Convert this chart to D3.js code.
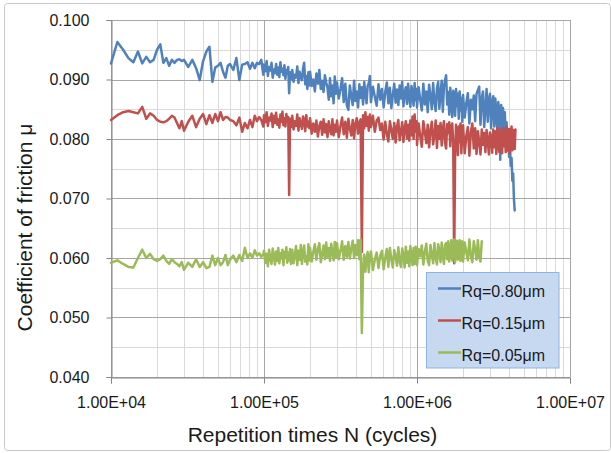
<!DOCTYPE html>
<html><head><meta charset="utf-8">
<script src="https://cdn.jsdelivr.net/npm/d3@7"></script>
<style>
body{margin:0;background:#fff}
svg{display:block}
text{font-family:"Liberation Sans",Arial,sans-serif;fill:#1a1a1a}
</style>
</head><body>
<svg id="chart" width="611" height="453"></svg>
<script>
// Repetition times, in thousands of cycles (shared sample grid)
const cyclesK = [
 10,11,12,13,14,15,16,17,18,19,20,21,22,23,24,25,26,27,28,29,30,
 32,34,36,38,40,42,44,46,48,50,52,54,56,58,60,
 63,66,69,72,75,78,81,84,87,90,93,96,99,
 100,102,104,106,108,110,112,114,116,118,120,122,124,126,128,130,132,134,136,138,140,142,144,146,148,150,
 153,156,159,162,165,168,171,174,177,180,183,186,189,192,195,198,
 200,205,210,215,220,225,230,235,240,245,250,255,260,265,270,275,280,285,290,295,
 300,308,316,324,332,340,348,356,364,372,380,388,396,404,412,420,428,436,444,452,460,468,476,484,492,
 500,515,530,545,560,575,590,605,620,635,650,665,680,695,710,725,740,755,770,785,800,815,830,845,860,875,890,905,920,935,950,965,980,995,
 1000,1025,1050,1075,1100,1125,1150,1175,1200,1225,1250,1275,1300,1325,1350,1375,1400,1425,1450,1475,1500,1525,1550,1575,1600,1625,1650,1675,1700,1725,1750,1775,1800,1825,1850,1875,1900,1925,1950,1975,
 2000,2050,2100,2150,2200,2250,2300,2350,2400,2450,2500,2550,2600,2650,2700,2750,2800,2850,2900,2950,3000,3050,3100,3150,3200,3250,3300,3350,3400,3450,3500,3550,3600,3650,3700,3750,3800,3850,3900,3950,4000,4050,4100,4150,4200,4250,4300,4350,4400
];

// Rq = 0.80 µm
const muRq080 = [
 .0927,.0963,.0950,.0936,.0929,.0947,.0927,.0938,.0929,.0933,.0950,.0959,.0928,.0936,.0923,.0933,.0928,.0933,.0934,.0931,.0933,
 .0921,.0933,.0919,.0899,.0931,.0947,.0955,.0896,.0920,.0923,.0928,.0913,.0903,.0923,.0926,
 .0916,.0936,.0899,.0925,.0926,.0929,.0918,.0928,.0919,.0928,.0926,.0933,.0908,
 .0925,.0914,.0931,.0906,.0921,.0915,.0928,.0903,.0917,.0911,.0926,.0908,.0920,.0904,.0929,.0913,.0918,.0907,.0924,.0901,.0916,.0910,.0921,.0877,.0912,.0900,
 .0916,.0896,.0908,.0903,.0922,.0894,.0913,.0905,.0899,.0918,.0928,.0892,.0906,.0884,.0912,.0890,
 .0913,.0889,.0900,.0880,.0910,.0893,.0916,.0884,.0898,.0879,.0907,.0895,.0886,.0866,.0902,.0872,.0890,.0860,.0905,.0876,
 .0895,.0868,.0884,.0902,.0862,.0893,.0856,.0849,.0890,.0872,.0857,.0898,.0864,.0880,.0853,.0892,.0869,.0887,.0858,.0896,.0876,.0860,.0889,.0894,.0906,
 .0862,.0888,.0871,.0856,.0892,.0866,.0884,.0853,.0879,.0895,.0860,.0886,.0852,.0874,.0893,.0861,.0883,.0857,.0890,.0868,.0896,.0855,.0878,.0887,.0859,.0893,.0870,.0854,.0889,.0876,.0856,.0894,.0865,.0884,
 .0853,.0887,.0866,.0848,.0893,.0858,.0880,.0845,.0891,.0872,.0850,.0894,.0862,.0847,.0885,.0896,.0851,.0876,.0898,.0846,.0888,.0899,.0907,.0858,.0879,.0841,.0886,.0862,.0837,.0881,.0870,.0839,.0884,.0855,.0876,.0834,.0880,.0848,.0869,.0829,
 .0874,.0836,.0860,.0877,.0826,.0866,.0850,.0873,.0830,.0876,.0882,.0888,.0824,.0868,.0880,.0820,.0852,.0884,.0829,.0866,.0876,.0818,.0860,.0872,.0821,.0868,.0845,.0815,.0862,.0840,.0765,.0857,.0820,.0852,.0812,.0845,.0800,.0828,.0790,.0812,.0770,.0788,.0755,.0768,.0730,.0742,.0700,.0680
];

// Rq = 0.15 µm
const muRq015 = [
 .0832,.0840,.0845,.0847,.0845,.0843,.0854,.0834,.0843,.0839,.0832,.0829,.0828,.0830,.0834,.0839,.0836,.0827,.0818,.0830,.0814,
 .0829,.0839,.0820,.0834,.0842,.0825,.0840,.0827,.0842,.0830,.0845,.0832,.0837,.0836,.0832,
 .0830,.0823,.0836,.0812,.0827,.0818,.0832,.0820,.0839,.0830,.0837,.0832,.0821,
 .0840,.0828,.0845,.0822,.0836,.0831,.0843,.0820,.0839,.0827,.0844,.0824,.0833,.0819,.0841,.0829,.0846,.0823,.0835,.0821,.0842,.0830,.0837,.0706,.0834,.0820,
 .0839,.0816,.0830,.0822,.0841,.0814,.0835,.0826,.0817,.0838,.0832,.0813,.0840,.0821,.0829,.0818,
 .0835,.0809,.0826,.0812,.0831,.0804,.0822,.0829,.0807,.0833,.0811,.0825,.0803,.0830,.0815,.0808,.0833,.0806,.0824,.0812,
 .0831,.0803,.0822,.0836,.0808,.0829,.0802,.0834,.0817,.0806,.0832,.0801,.0826,.0835,.0809,.0828,.0833,.0610,.0840,.0818,.0845,.0822,.0837,.0814,.0841,
 .0820,.0839,.0812,.0831,.0836,.0815,.0826,.0799,.0829,.0808,.0796,.0830,.0815,.0800,.0827,.0794,.0821,.0832,.0798,.0812,.0828,.0795,.0818,.0830,.0801,.0824,.0797,.0831,.0806,.0838,.0800,.0841,.0812,.0830,
 .0790,.0826,.0805,.0787,.0830,.0812,.0793,.0824,.0786,.0815,.0829,.0791,.0808,.0831,.0785,.0822,.0800,.0827,.0789,.0817,.0830,.0793,.0784,.0825,.0810,.0828,.0788,.0819,.0826,.0792,.0591,.0779,.0824,.0800,.0773,.0821,.0795,.0826,.0776,.0815,
 .0823,.0776,.0805,.0820,.0772,.0812,.0826,.0784,.0818,.0775,.0813,.0795,.0774,.0816,.0790,.0810,.0778,.0815,.0798,.0774,.0811,.0803,.0777,.0816,.0786,.0813,.0775,.0819,.0795,.0778,.0815,.0801,.0776,.0818,.0788,.0814,.0778,.0820,.0796,.0780,.0817,.0776,.0806,.0821,.0781,.0815,.0798,.0783,.0816
];

// Rq = 0.05 µm
const muRq005 = [
 .0592,.0596,.0590,.0585,.0584,.0600,.0614,.0600,.0607,.0598,.0595,.0598,.0604,.0595,.0590,.0598,.0593,.0590,.0586,.0593,.0580,
 .0592,.0585,.0598,.0585,.0593,.0583,.0585,.0604,.0588,.0600,.0588,.0593,.0605,.0588,.0597,
 .0604,.0593,.0605,.0595,.0617,.0600,.0608,.0600,.0613,.0604,.0608,.0602,.0607,
 .0612,.0592,.0607,.0586,.0614,.0598,.0590,.0616,.0603,.0589,.0611,.0595,.0617,.0591,.0608,.0599,.0614,.0588,.0610,.0601,.0618,.0592,.0609,.0596,.0615,.0590,
 .0614,.0591,.0605,.0620,.0588,.0612,.0597,.0622,.0590,.0609,.0621,.0594,.0603,.0589,.0623,.0596,
 .0617,.0594,.0610,.0623,.0597,.0615,.0625,.0593,.0606,.0621,.0598,.0626,.0602,.0617,.0595,.0624,.0609,.0596,.0627,.0601,
 .0625,.0598,.0612,.0628,.0597,.0620,.0602,.0627,.0599,.0616,.0629,.0600,.0622,.0605,.0630,.0598,.0631,.0474,.0581,.0606,.0577,.0598,.0610,.0576,.0603,
 .0611,.0580,.0597,.0609,.0583,.0604,.0612,.0581,.0600,.0615,.0585,.0617,.0598,.0584,.0613,.0603,.0587,.0618,.0594,.0585,.0616,.0605,.0584,.0619,.0592,.0611,.0586,.0620,.0601,.0588,.0617,.0590,.0619,.0599,
 .0588,.0615,.0603,.0621,.0589,.0610,.0624,.0595,.0588,.0622,.0606,.0591,.0625,.0600,.0589,.0623,.0612,.0593,.0626,.0604,.0590,.0622,.0625,.0598,.0628,.0594,.0612,.0630,.0596,.0621,.0631,.0593,.0615,.0629,.0597,.0620,.0630,.0595,.0609,.0628,
 .0594,.0626,.0610,.0596,.0631,.0604,.0593,.0628,.0615,.0597,.0630,.0602,.0594,.0628
];

const seriesNames = ["Rq=0.80μm", "Rq=0.15μm", "Rq=0.05μm"];
const seriesColors = ["#4f81bd", "#c0504d", "#9bbb59"];
const yTickValues = [0.040, 0.050, 0.060, 0.070, 0.080, 0.090, 0.100];
const xTickValues = [1e4, 1e5, 1e6, 1e7];
const xTitle = "Repetition times N (cycles)";
const yTitle = "Coefficient of friction μ";

const svg = d3.select("#chart");
const L = 111, R = 570, T = 20, B = 377;
const x = d3.scaleLog().domain([1e4, 1e7]).range([L, R]);
const y = d3.scaleLinear().domain([0.040, 0.100]).range([B, T]);
const crisp = v => Math.round(v) + 0.5;

// chart frame
svg.append("rect").attr("x", 4.5).attr("y", 3.5).attr("width", 606).attr("height", 447)
  .attr("rx", 3).attr("fill", "#fff").attr("stroke", "#c8c8c8");

// minor grid
const yMinor = d3.range(0, yTickValues.length - 1).map(i => (yTickValues[i] + yTickValues[i + 1]) / 2);
svg.append("g").selectAll("line").data(yMinor).join("line")
  .attr("x1", L).attr("x2", R).attr("y1", d => crisp(y(d))).attr("y2", d => crisp(y(d)))
  .attr("stroke", "#d9d9d9");
const xMinor = x.ticks().filter(d => !xTickValues.includes(d));
svg.append("g").selectAll("line").data(xMinor).join("line")
  .attr("y1", T).attr("y2", B).attr("x1", d => crisp(x(d))).attr("x2", d => crisp(x(d)))
  .attr("stroke", "#d9d9d9");
// major grid
svg.append("g").selectAll("line").data(yTickValues).join("line")
  .attr("x1", L).attr("x2", R).attr("y1", d => crisp(y(d))).attr("y2", d => crisp(y(d)))
  .attr("stroke", "#a6a6a6");
svg.append("g").selectAll("line").data(xTickValues).join("line")
  .attr("y1", T).attr("y2", B).attr("x1", d => crisp(x(d))).attr("x2", d => crisp(x(d)))
  .attr("stroke", "#a6a6a6");

// axes
const yAxis = svg.append("g").attr("transform", `translate(${crisp(L)},0)`)
  .call(d3.axisLeft(y).tickValues(yTickValues).tickFormat(d3.format(".3f")).tickSizeOuter(0).tickSize(5).tickPadding(17));
const xAxis = svg.append("g").attr("transform", `translate(0,${crisp(B)})`)
  .call(d3.axisBottom(x).tickValues(xTickValues).tickFormat(d => d.toExponential(2).toUpperCase().replace(/E\+(\d)$/, "E+0$1")).tickSizeOuter(0).tickSize(6).tickPadding(13));
[yAxis, xAxis].forEach(g => {
  g.select(".domain").attr("stroke", "#868686");
  g.selectAll(".tick line").attr("stroke", "#868686");
  g.selectAll(".tick text").attr("font-size", 16).attr("fill", "#1a1a1a")
    .attr("font-family", "'Liberation Sans', Arial, sans-serif");
});

// series
const seriesValues = [muRq080, muRq015, muRq005];
const line = d3.line().x(d => x(d.n)).y(d => y(d.mu));
seriesValues.forEach((vals, k) => {
  const data = vals.map((m, i) => ({ n: cyclesK[i] * 1000, mu: m }));
  svg.append("path").datum(data).attr("d", line)
    .attr("fill", "none").attr("stroke", seriesColors[k]).attr("stroke-width", 2.5)
    .attr("stroke-linejoin", "round").attr("stroke-linecap", "round");
});

// titles
svg.append("text").attr("x", 312.5).attr("y", 442).attr("text-anchor", "middle")
  .attr("font-size", 21).text(xTitle);
svg.append("text").attr("transform", "translate(31.5,227.5) rotate(-90)").attr("text-anchor", "middle")
  .attr("font-size", 21).text(yTitle);

// legend
const lg = svg.append("g");
lg.append("rect").attr("x", 426.5).attr("y", 272.5).attr("width", 132.5).attr("height", 95.5)
  .attr("fill", "#c6d9f1").attr("stroke", "#8eb4e3");
const legY = [288.5, 320.5, 352.5];
seriesNames.forEach((name, k) => {
  lg.append("line").attr("x1", 438).attr("x2", 461).attr("y1", legY[k]).attr("y2", legY[k])
    .attr("stroke", seriesColors[k]).attr("stroke-width", 2.5);
  lg.append("text").attr("x", 461.5).attr("y", legY[k] + 8).attr("font-size", 16).text(name);
});
</script>
</body></html>
